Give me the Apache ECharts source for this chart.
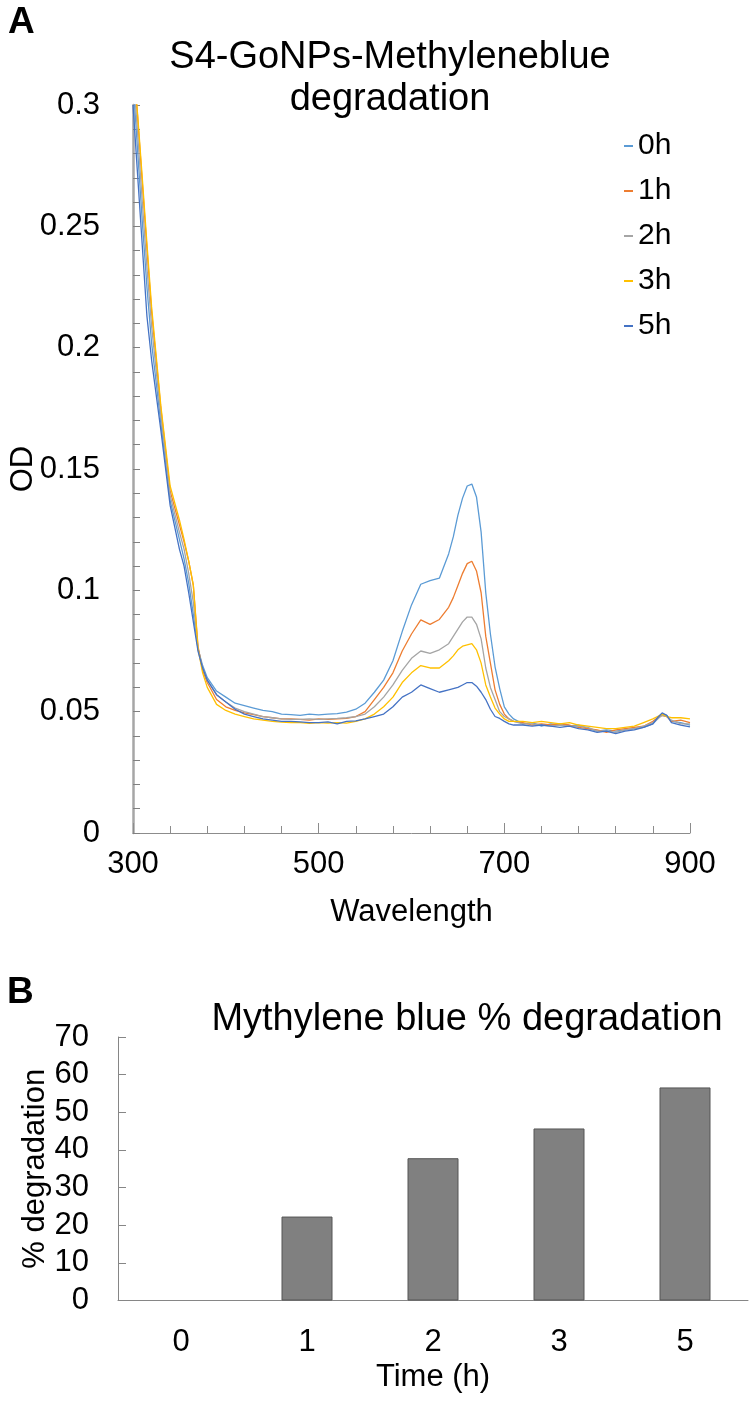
<!DOCTYPE html>
<html>
<head>
<meta charset="utf-8">
<script src="https://cdn.jsdelivr.net/npm/echarts@6/dist/echarts.min.js"></script>
<style>
html,body{margin:0;padding:0;background:#fff;}
#chart{width:750px;height:1401px;}
</style>
</head>
<body>
<div id="chart"></div>
<script>
// ---- Panel A data: absorbance spectra ----
const wavelengths = [300,305,310,315,320,330,340,350,355,360,365,370,375,380,390,400,
  410,420,430,440,450,460,470,480,490,500,510,520,530,540,550,560,570,580,590,600,610,620,630,
  640,645,650,655,660,665,670,675,680,685,690,695,700,705,710,
  720,730,740,750,760,770,780,790,800,810,820,830,840,850,860,
  865,870,875,880,890,900];
const od0h = [0.310,0.281,0.252,0.225,0.202,0.169,0.137,0.121,0.113,0.103,0.090,0.076,0.069,0.064,0.0585,0.056,
  0.0535,0.0525,0.0515,0.0505,0.0500,0.0490,0.0488,0.0485,0.0490,0.0487,0.0490,0.0492,0.0498,0.0510,0.0535,0.0580,0.0630,0.0710,0.0830,0.0940,0.1025,0.1040,0.1050,
  0.1150,0.1220,0.1310,0.1380,0.1430,0.1438,0.1385,0.1240,0.0990,0.0820,0.0685,0.0595,0.0520,0.0490,0.0470,
  0.0450,0.0455,0.0440,0.0450,0.0445,0.0440,0.0445,0.0430,0.0420,0.0425,0.0420,0.0425,0.0430,0.0435,0.0450,
  0.0470,0.0490,0.0485,0.0460,0.0455,0.0445];
const od1h = [0.320,0.295,0.268,0.241,0.215,0.175,0.141,0.127,0.120,0.112,0.102,0.077,0.067,0.062,0.055,0.052,
  0.0505,0.0495,0.0488,0.0480,0.0475,0.0470,0.0470,0.0468,0.0465,0.0470,0.0468,0.0470,0.0472,0.0480,0.0500,0.0550,0.0600,0.0660,0.0750,0.0820,0.0878,0.0860,0.0880,
  0.0930,0.0970,0.1020,0.1070,0.1110,0.1120,0.1080,0.0990,0.0810,0.0700,0.0590,0.0530,0.0490,0.0470,0.0460,
  0.0455,0.0445,0.0450,0.0445,0.0450,0.0445,0.0435,0.0430,0.0425,0.0415,0.0425,0.0430,0.0435,0.0440,0.0460,
  0.0475,0.0485,0.0480,0.0460,0.0465,0.0455];
const od2h = [0.315,0.288,0.260,0.233,0.209,0.172,0.139,0.124,0.117,0.107,0.095,0.076,0.068,0.063,0.057,0.054,
  0.0515,0.0500,0.0490,0.0480,0.0475,0.0470,0.0468,0.0468,0.0470,0.0468,0.0470,0.0472,0.0475,0.0480,0.0490,0.0520,0.0560,0.0610,0.0670,0.0720,0.0750,0.0740,0.0755,
  0.0780,0.0810,0.0840,0.0870,0.0890,0.0890,0.0860,0.0800,0.0680,0.0600,0.0550,0.0500,0.0480,0.0470,0.0460,
  0.0450,0.0450,0.0445,0.0440,0.0445,0.0440,0.0440,0.0435,0.0420,0.0420,0.0415,0.0425,0.0430,0.0440,0.0455,
  0.0470,0.0485,0.0480,0.0465,0.0450,0.0450];
const od3h = [0.320,0.296,0.270,0.243,0.217,0.176,0.143,0.129,0.121,0.112,0.102,0.076,0.066,0.060,0.053,0.0505,
  0.0490,0.0480,0.0470,0.0465,0.0460,0.0457,0.0455,0.0455,0.0452,0.0455,0.0453,0.0455,0.0453,0.0460,0.0470,0.0490,0.0520,0.0560,0.0620,0.0660,0.0690,0.0680,0.0680,
  0.0710,0.0730,0.0755,0.0770,0.0775,0.0780,0.0755,0.0700,0.0610,0.0560,0.0515,0.0490,0.0470,0.0460,0.0460,
  0.0460,0.0455,0.0460,0.0455,0.0450,0.0455,0.0445,0.0440,0.0435,0.0430,0.0430,0.0435,0.0440,0.0455,0.0470,
  0.0480,0.0490,0.0480,0.0475,0.0475,0.0470];
const od5h = [0.300,0.271,0.242,0.213,0.195,0.166,0.135,0.117,0.110,0.099,0.087,0.075,0.068,0.063,0.057,0.054,
  0.0510,0.0490,0.0480,0.0470,0.0465,0.0460,0.0460,0.0458,0.0455,0.0455,0.0458,0.0450,0.0460,0.0462,0.0470,0.0480,0.0490,0.0520,0.0560,0.0580,0.0610,0.0595,0.0580,
  0.0590,0.0595,0.0600,0.0610,0.0620,0.0620,0.0605,0.0580,0.0550,0.0510,0.0480,0.0472,0.0460,0.0450,0.0445,
  0.0445,0.0440,0.0445,0.0440,0.0435,0.0440,0.0430,0.0425,0.0415,0.0420,0.0410,0.0420,0.0425,0.0435,0.0450,
  0.0475,0.0495,0.0485,0.0455,0.0445,0.0437];
const seriesNames = ['0h','1h','2h','3h','5h'];
const seriesValues = [od0h, od1h, od2h, od3h, od5h];
const seriesColors = ['#5B9BD5','#ED7D31','#A5A5A5','#FFC000','#4472C4'];

// ---- Panel B data: % degradation ----
const times = ['0','1','2','3','5'];
const degradation = [0, 22.3, 37.8, 45.7, 56.6];

const FONT = "'Liberation Sans', Arial, sans-serif";

const lineSeries = seriesNames.map((name, i) => ({
  name: name,
  type: 'line',
  xAxisIndex: 0,
  yAxisIndex: 0,
  showSymbol: false,
  symbol: 'none',
  smooth: false,
  clip: true,
  lineStyle: { color: seriesColors[i], width: 1.3 },
  itemStyle: { color: seriesColors[i] },
  data: wavelengths.map((w, k) => [w, seriesValues[i][k]])
}));

const chart = echarts.init(document.getElementById('chart'), null, { renderer: 'canvas' });
chart.setOption({
  animation: false,
  backgroundColor: '#ffffff',
  textStyle: { fontFamily: FONT },
  graphic: [
    { type: 'text', x: 8, y: 23, style: { text: 'A', font: "bold 37px " + FONT, fill: '#000', textVerticalAlign: 'middle' } },
    { type: 'text', x: 390, y: 58, style: { text: 'S4-GoNPs-Methyleneblue', font: "38px " + FONT, fill: '#000', textAlign: 'center', textVerticalAlign: 'middle' } },
    { type: 'text', x: 390, y: 100, style: { text: 'degradation', font: "38px " + FONT, fill: '#000', textAlign: 'center', textVerticalAlign: 'middle' } },
    { type: 'text', x: 7, y: 993, style: { text: 'B', font: "bold 37px " + FONT, fill: '#000', textVerticalAlign: 'middle' } },
    { type: 'text', x: 467, y: 1020, style: { text: 'Mythylene blue % degradation', font: "38px " + FONT, fill: '#000', textAlign: 'center', textVerticalAlign: 'middle' } }
  ],
  legend: {
    data: seriesNames,
    orient: 'vertical',
    left: 624,
    top: 131,
    icon: 'rect',
    itemWidth: 9,
    itemHeight: 2,
    itemGap: 15,
    padding: 0,
    textStyle: { fontSize: 30, color: '#000', fontFamily: FONT }
  },
  grid: [
    { left: 133, right: 60, top: 105, bottom: 568, outerBoundsMode: 'none', containLabel: false },
    { left: 118, right: 2, top: 1037, bottom: 100.5, outerBoundsMode: 'none', containLabel: false }
  ],
  xAxis: [
    {
      gridIndex: 0, type: 'value', min: 300, max: 900, interval: 200,
      name: 'Wavelength', nameLocation: 'middle', nameGap: 64, nameMoveOverlap: false,
      nameTextStyle: { fontSize: 31, color: '#000', fontFamily: FONT },
      axisLine: { lineStyle: { color: '#8c8c8c', width: 1 } },
      axisTick: { inside: true, length: 10, lineStyle: { color: '#8c8c8c' } },
      minorTick: { show: true, splitNumber: 5, length: 7, lineStyle: { color: '#8c8c8c' } },
      splitLine: { show: false },
      axisLabel: { fontSize: 31, color: '#000', margin: 16, fontFamily: FONT }
    },
    {
      gridIndex: 1, type: 'category', data: times,
      name: 'Time (h)', nameLocation: 'middle', nameGap: 61, nameMoveOverlap: false,
      nameTextStyle: { fontSize: 31, color: '#000', fontFamily: FONT },
      axisLine: { lineStyle: { color: '#868686', width: 1 } },
      axisTick: { inside: true, length: 10, alignWithLabel: false, lineStyle: { color: '#868686' } },
      axisLabel: { fontSize: 31, color: '#000', margin: 26, fontFamily: FONT }
    },
    {
      gridIndex: 1, type: 'category', data: times, position: 'bottom',
      axisLine: { show: false },
      axisTick: { inside: true, length: 6, alignWithLabel: true, lineStyle: { color: '#868686' } },
      axisLabel: { show: false }
    }
  ],
  yAxis: [
    {
      gridIndex: 0, type: 'value', min: 0, max: 0.3, interval: 0.05,
      name: 'OD', nameLocation: 'middle', nameGap: 94, nameMoveOverlap: false,
      nameTextStyle: { fontSize: 31, color: '#000', fontFamily: FONT },
      axisLine: { show: true, lineStyle: { color: '#a6a6a6', width: 2.5 } },
      axisTick: { show: true, inside: true, length: 7, lineStyle: { color: '#808080' } },
      minorTick: { show: true, splitNumber: 5, length: 7, lineStyle: { color: '#808080' } },
      splitLine: { show: false },
      axisLabel: { fontSize: 31, color: '#000', margin: 33, fontFamily: FONT }
    },
    {
      gridIndex: 1, type: 'value', min: 0, max: 70, interval: 10,
      name: '% degradation', nameLocation: 'middle', nameGap: 67, nameMoveOverlap: false,
      nameTextStyle: { fontSize: 31, color: '#000', fontFamily: FONT },
      axisLine: { show: true, lineStyle: { color: '#868686', width: 1 } },
      axisTick: { show: true, inside: true, length: 8, lineStyle: { color: '#868686' } },
      splitLine: { show: false },
      axisLabel: { fontSize: 31, color: '#000', margin: 29, fontFamily: FONT }
    }
  ],
  series: lineSeries.concat([
    {
      name: '% degradation', type: 'bar', xAxisIndex: 1, yAxisIndex: 1,
      barWidth: 51,
      itemStyle: { color: '#808080', borderColor: '#555555', borderWidth: 1 },
      data: degradation.map(v => v === 0 ? { value: v, itemStyle: { borderWidth: 0 } } : v)
    }
  ])
});
</script>
</body>
</html>
